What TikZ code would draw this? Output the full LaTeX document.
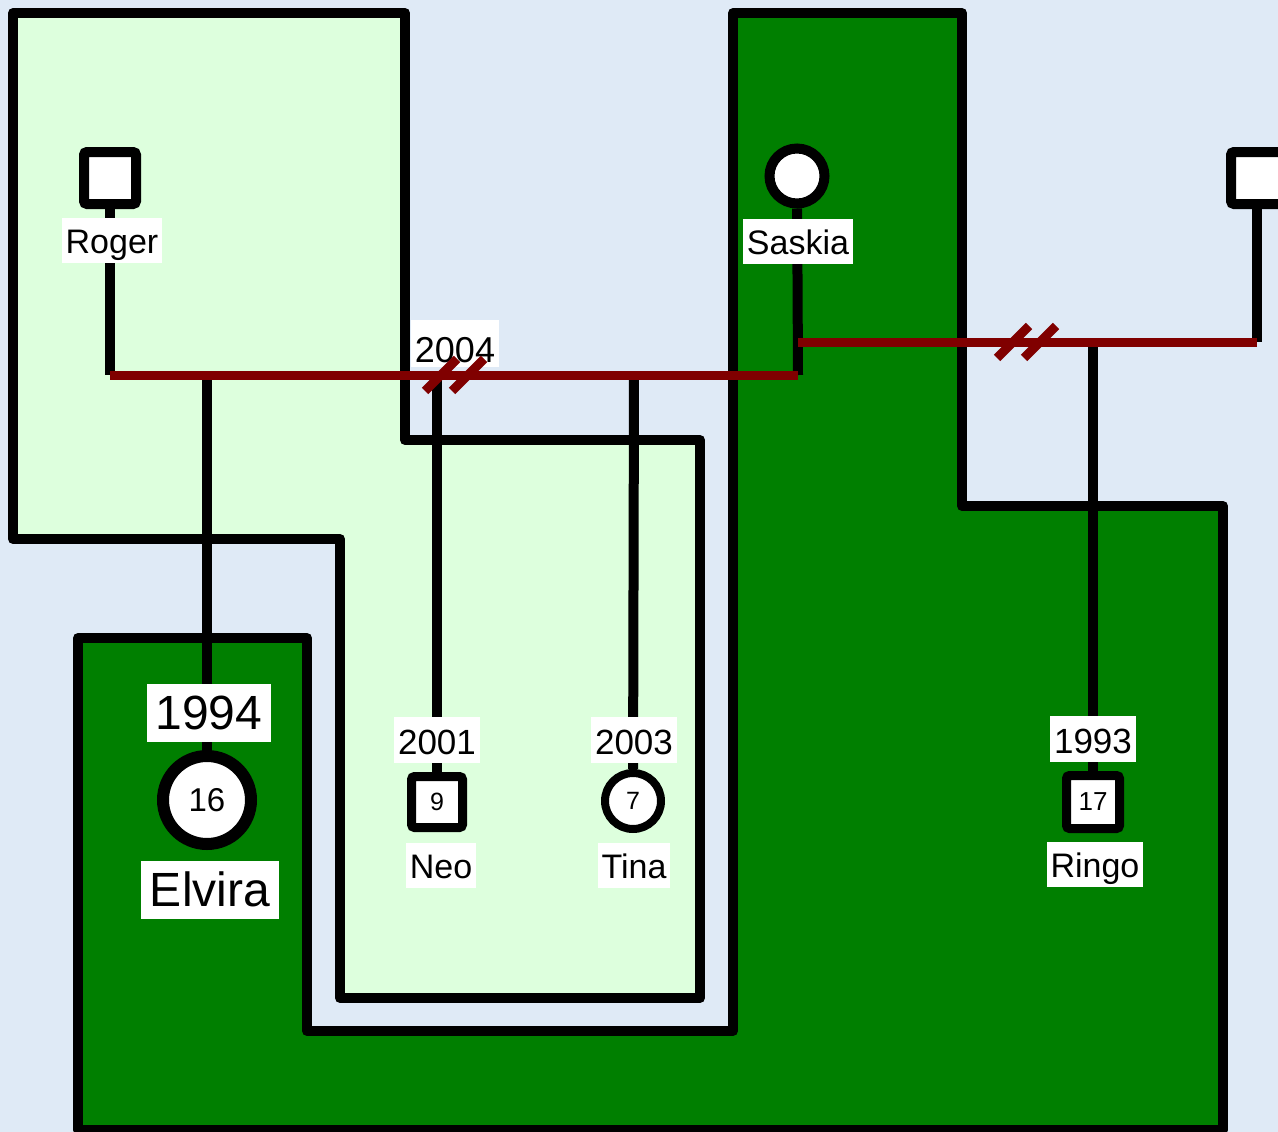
\documentclass[tikz,border=0pt]{standalone}
\usepackage{fontspec}
\setmainfont{Liberation Sans}
\definecolor{bgblue}{HTML}{DFEAF6}
\definecolor{lightgr}{HTML}{DDFFDD}
\definecolor{darkgr}{HTML}{007F00}
\definecolor{relred}{HTML}{800000}
\pgfdeclarelayer{bg}
\pgfdeclarelayer{lines}
\pgfsetlayers{bg,lines,main}
\tikzset{
  region/.style={draw=black,line width=10pt,line join=round},
  kid/.style={draw=black,line width=10pt},
  rel/.style={draw=relred,line width=9pt},
  divmark/.style={draw=relred,line width=9pt},
  malebox/.style={draw=black,fill=white,rectangle,rounded corners=3pt,line width=10pt,minimum size=52pt,inner sep=0pt},
  femalebox/.style={draw=black,fill=white,circle,line width=10pt,minimum size=55pt,inner sep=0pt},
  namelbl/.style={fill=white,inner xsep=4pt,inner ysep=0pt,text height=36pt,text depth=9pt,font=\fontsize{34}{40}\selectfont},
  yearlbl/.style={fill=white,inner xsep=4pt,inner ysep=0pt,text height=37pt,text depth=9pt,font=\fontsize{35}{40}\selectfont},
  biglbl/.style={fill=white,inner xsep=9pt,inner ysep=0pt,text height=45pt,text depth=13pt,font=\fontsize{48}{54}\selectfont},
}
\begin{document}
\begin{tikzpicture}[x=1pt,y=-1pt]
\useasboundingbox (0,0) rectangle (1278,1132);
\begin{pgfonlayer}{bg}
  \fill[bgblue] (0,0) rectangle (1278,1132);
  \draw[region,fill=lightgr] (13,13) -- (405,13) -- (405,440) -- (700,440) -- (700,998) -- (340,998) -- (340,539) -- (13,539) -- cycle;
  \draw[region,fill=darkgr] (78,638) -- (307,638) -- (307,1031) -- (733,1031) -- (733,13) -- (962,13) -- (962,506) -- (1223,506) -- (1223,1130) -- (78,1130) -- cycle;
\end{pgfonlayer}

% persons
\node[malebox] (roger) at (110,178) {};
\node[namelbl] (rogerL) at (112,240) {Roger};
\node[femalebox] (saskia) at (797,176) {};
\node[namelbl] (saskiaL) at (798,241) {Saskia};
\node[malebox] (ex) at (1257,178) {};

\node[femalebox,line width=12pt,minimum size=88pt,font=\fontsize{33}{38}\selectfont] (elvira) at (207,800) {16};
\node[biglbl] (elviraY) at (209,713) {1994};
\node[biglbl] (elviraL) at (210,890) {Elvira};

\node[malebox,line width=9pt,minimum size=51pt,font=\fontsize{25}{30}\selectfont] (neo) at (437,802) {9};
\node[yearlbl] (neoY) at (437,740) {2001};
\node[namelbl] (neoL) at (441,865) {Neo};

\node[femalebox,line width=8pt,minimum size=56pt,font=\fontsize{25}{30}\selectfont] (tina) at (633,801) {7};
\node[yearlbl] (tinaY) at (634,740) {2003};
\node[namelbl] (tinaL) at (634,865) {Tina};

\node[malebox,line width=9pt,minimum size=53pt,font=\fontsize{26}{30}\selectfont] (ringo) at (1093,802) {17};
\node[yearlbl] (ringoY) at (1093,739) {1993};
\node[namelbl] (ringoL) at (1095,864) {Ringo};

\node[fill=white,inner xsep=4pt,inner ysep=0pt,text height=43pt,text depth=4pt,font=\fontsize{36}{40}\selectfont] (marY) at (455,343) {2004};

% junction coordinates
\coordinate (rj) at (110,375);
\coordinate (sj) at (798,375);
\coordinate (sj2) at (798,342);
\coordinate (exj) at (1257,342);
\coordinate (c1) at (207,375);
\coordinate (c2) at (437,375);
\coordinate (c3) at (634,375);
\coordinate (c4) at (1093,342);
\coordinate (d1) at (441,375);
\coordinate (d2) at (468,375);
\coordinate (d3) at (1013,342);
\coordinate (d4) at (1040,342);

\begin{pgfonlayer}{lines}
  \draw[kid] (roger) -- (rj);
  \draw[kid] (saskia) -- (sj);
  \draw[kid] (ex) -- (exj);
  \draw[kid] (c1) -- (elvira);
  \draw[kid] (c2) -- (neo);
  \draw[kid] (c3) -- (tina);
  \draw[kid] (c4) -- (ringo);
  \draw[rel] (rj) -- (sj);
  \draw[rel] (sj2) -- (exj);
\end{pgfonlayer}

% divorce marks
\draw[divmark] (d1) ++(-16,16) -- ++(32,-32);
\draw[divmark] (d2) ++(-16,16) -- ++(32,-32);
\draw[divmark] (d3) ++(-16,16) -- ++(32,-32);
\draw[divmark] (d4) ++(-16,16) -- ++(32,-32);
\end{tikzpicture}
\end{document}
